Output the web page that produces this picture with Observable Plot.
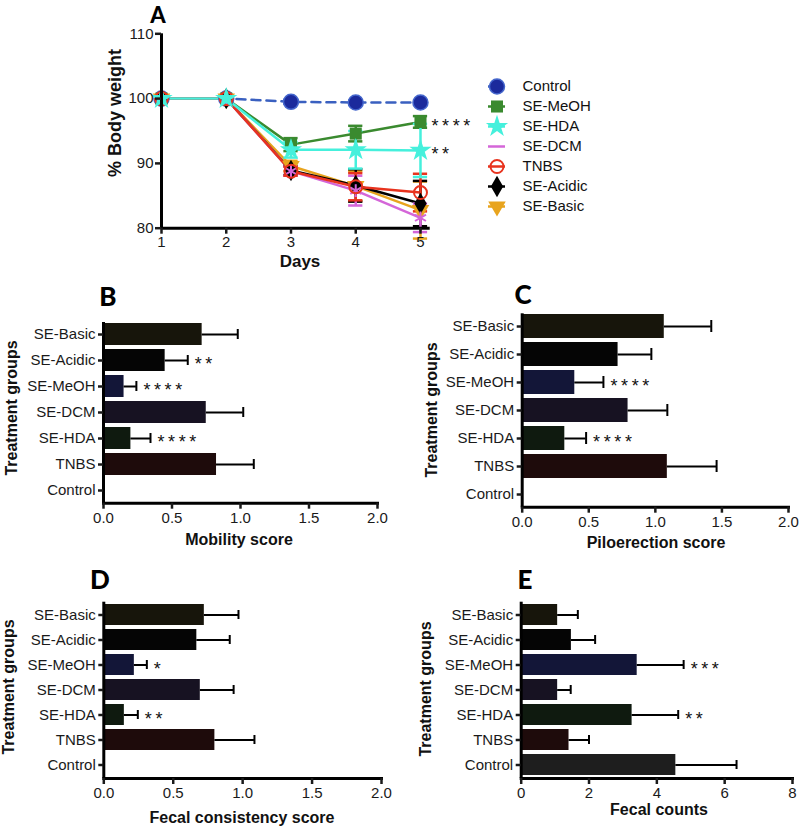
<!DOCTYPE html>
<html>
<head>
<meta charset="utf-8">
<script src="https://cdn.jsdelivr.net/npm/d3@7"></script>
<script src="https://cdn.jsdelivr.net/npm/@observablehq/plot@0.6"></script>
<style>
  body { margin: 0; background: #fff; }
  #wrap { position: relative; width: 800px; height: 831px; background: #fff; overflow: hidden; }
  .abs { position: absolute; }
  .lbl { position: absolute; font-family: "Liberation Sans", Arial, sans-serif; font-weight: bold; color: #111; white-space: nowrap; transform: translate(-50%, -50%); }
  .rot { transform: translate(-50%, -50%) rotate(-90deg); }
  .letter { position: absolute; font-family: Lato, "Open Sans", sans-serif; font-weight: 900; color: #000; transform: translate(-50%, -50%); }
</style>
</head>
<body>
<div id="wrap"></div>
<script>
// ---------- Panel A data ----------
const days = [1, 2, 3, 4, 5];
const seriesNames = ["Control", "SE-MeOH", "SE-HDA", "SE-DCM", "TNBS", "SE-Acidic", "SE-Basic"];
const controlWeight = [100, 100, 99.5, 99.4, 99.4];
const controlErr    = [0, 0, 0.3, 0.3, 0.3];
const meohWeight    = [100, 100, 92.9, 94.6, 96.4];
const meohErr       = [0, 0, 1.0, 1.2, 0.9];
const hdaWeight     = [100, 100, 92.1, 92.1, 92.0];
const hdaErr        = [0, 0, 1.2, 2.9, 4.1];
const dcmWeight     = [100, 100, 88.8, 85.8, 81.6];
const dcmErr        = [0, 0, 0.7, 2.3, 2.2];
const tnbsWeight    = [100, 100, 88.8, 86.4, 85.5];
const tnbsErr       = [0, 0, 0.7, 2.1, 2.9];
const acidicWeight  = [100, 100, 88.9, 86.6, 83.8];
const acidicErr     = [0, 0, 0.7, 2.5, 3.5];
const basicWeight   = [100, 100, 89.6, 86.5, 82.8];
const basicErr      = [0, 0, 0.8, 2.3, 4.4];
const weightStars   = {"SE-MeOH": "*\u2009*\u2009*\u2009*", "SE-HDA": "*\u2009*"};

// ---------- Bar panel data ----------
const groups = ["SE-Basic", "SE-Acidic", "SE-MeOH", "SE-DCM", "SE-HDA", "TNBS", "Control"];
const mobility      = [0.72, 0.45, 0.15, 0.75, 0.20, 0.825, 0];
const mobilityErr   = [0.26, 0.165, 0.09, 0.27, 0.143, 0.272, 0];
const mobilityStars = ["", "**", "****", "", "****", "", ""];
const pilo          = [1.067, 0.72, 0.395, 0.795, 0.32, 1.09, 0];
const piloErr       = [0.353, 0.25, 0.215, 0.295, 0.16, 0.37, 0];
const piloStars     = ["", "", "****", "", "****", "", ""];
const fecalCons     = [0.724, 0.67, 0.22, 0.695, 0.148, 0.80, 0];
const fecalConsErr  = [0.246, 0.237, 0.09, 0.24, 0.097, 0.285, 0];
const fecalConsStars= ["", "", "*", "", "**", "", ""];
const fecalCounts   = [1.075, 1.48, 3.42, 1.075, 3.27, 1.41, 4.56];
const fecalCountsErr= [0.595, 0.70, 1.37, 0.385, 1.36, 0.59, 1.79];
const fecalCountsStars = ["", "", "***", "", "**", "", ""];
const scoreTicks = [0, 0.5, 1, 1.5, 2];
const countTicks = [0, 2, 4, 6, 8];
const weightTicks = [80, 90, 100, 110];

// ---------- styles ----------
const barColor = {"SE-Basic": "#17150b", "SE-Acidic": "#050505", "SE-MeOH": "#131638", "SE-DCM": "#171222",
                  "SE-HDA": "#0f1a0f", "TNBS": "#1e0b0b", "Control": "#1e1e1e"};
const seriesStyle = {
  "Control":   {line: "#3a60c0", dash: "9,6", dot: {symbol: "circle", r: 7.5, fill: "#1b2a9c", stroke: "#4466cc", strokeWidth: 1.5}},
  "SE-MeOH":   {line: "#3a8a2f", dot: {symbol: "square", r: 6.8, fill: "#3a8a2f"}},
  "SE-Basic":  {line: "#e8a41e", dot: {symbol: "triangle", r: 6.5, fill: "#e8a41e", rotate: 180}},
  "SE-Acidic": {line: "#000000", dot: {symbol: "diamond", r: 6.5, fill: "#000"}},
  "SE-DCM":    {line: "#d466d8", dot: {symbol: "asterisk", r: 6, stroke: "#d466d8", strokeWidth: 2}, noLegendDot: true},
  "TNBS":      {line: "#e8331e", dot: {symbol: "circle", r: 6.5, fill: "none", stroke: "#e8331e", strokeWidth: 2}},
  "SE-HDA":    {line: "#45f0dc", dot: {symbol: "star", r: 7, fill: "#45f0dc"}}
};
const weightValues = {"Control": [controlWeight, controlErr], "SE-MeOH": [meohWeight, meohErr], "SE-HDA": [hdaWeight, hdaErr],
  "SE-DCM": [dcmWeight, dcmErr], "TNBS": [tnbsWeight, tnbsErr], "SE-Acidic": [acidicWeight, acidicErr], "SE-Basic": [basicWeight, basicErr]};
const drawOrder = ["Control", "SE-MeOH", "SE-Basic", "SE-Acidic", "SE-DCM", "TNBS", "SE-HDA"];

const FONT = "'Liberation Sans', Arial, sans-serif";
const spaced = s => s.split("").join("\u2009");
const wrap = document.getElementById("wrap");
function place(el, left, top) { el.classList.add("abs"); el.style.left = left + "px"; el.style.top = top + "px"; wrap.appendChild(el); }
function label(text, x, y, size, rot) {
  const d = document.createElement("div"); d.className = "lbl" + (rot ? " rot" : "");
  d.textContent = text; d.style.left = x + "px"; d.style.top = y + "px"; d.style.fontSize = size + "px"; wrap.appendChild(d);
}
function letter(text, x, y, size) {
  const d = document.createElement("div"); d.className = "letter";
  d.textContent = text; d.style.left = x + "px"; d.style.top = y + "px"; d.style.fontSize = size + "px"; wrap.appendChild(d);
}

// ---------- Panel A ----------
const longData = [];
for (const s of seriesNames) {
  const [v, e] = weightValues[s];
  days.forEach((d, i) => longData.push({series: s, day: d, value: v[i], err: e[i]}));
}
const marksA = [];
for (const s of drawOrder) {
  const st = seriesStyle[s];
  marksA.push(Plot.line(longData.filter(d => d.series === s), {x: "day", y: "value", stroke: st.line, strokeWidth: 2.5, strokeDasharray: st.dash || null}));
}
for (const s of drawOrder) {
  const st = seriesStyle[s];
  const ed = longData.filter(d => d.series === s && d.err > 0);
  marksA.push(Plot.ruleX(ed, {x: "day", y1: d => d.value - d.err, y2: d => d.value + d.err, stroke: st.line, strokeWidth: 2.5}));
  marksA.push(Plot.ruleY(ed, {y: d => d.value + d.err, x1: d => d.day - 0.11, x2: d => d.day + 0.11, stroke: st.line, strokeWidth: 2.5}));
  marksA.push(Plot.ruleY(ed, {y: d => d.value - d.err, x1: d => d.day - 0.11, x2: d => d.day + 0.11, stroke: st.line, strokeWidth: 2.5}));
}
for (const s of drawOrder) {
  const st = seriesStyle[s];
  marksA.push(Plot.dot(longData.filter(d => d.series === s), {x: "day", y: "value", ...st.dot}));
}
const starData = longData.filter(d => d.day === 5 && weightStars[d.series]);
marksA.push(Plot.text(starData, {x: "day", y: "value", text: d => weightStars[d.series], textAnchor: "start", dx: 11, dy: 4, fontSize: 18, fill: "#111"}));
marksA.push(Plot.ruleX([1], {strokeWidth: 3, stroke: "#000"}));
marksA.push(Plot.ruleY([80], {strokeWidth: 3, stroke: "#000"}));
marksA.push(Plot.axisX({ticks: days, tickFormat: d => d, tickSize: 6, tickPadding: 2, strokeWidth: 2.5, label: null, fontSize: 15}));
marksA.push(Plot.axisY({ticks: weightTicks, tickSize: 6, tickPadding: 2, strokeWidth: 2.5, label: null, fontSize: 15}));

const plotA = Plot.plot({
  width: 440, height: 275, marginLeft: 161, marginRight: 10.3, marginTop: 33.3, marginBottom: 47.3,
  style: {fontFamily: FONT, fontSize: "15px", color: "#1a1a1a", background: "none", overflow: "visible"},
  x: {domain: [1, 5.15]}, y: {domain: [80, 110]},
  marks: marksA
});
place(plotA, 0, 0);

// legend
const legendMarks = [];
for (const s of seriesNames) {
  const st = seriesStyle[s];
  legendMarks.push(Plot.ruleY([s], {y: d => d, x1: 0, x2: 1, stroke: st.line, strokeWidth: 2.5}));
  if (!st.noLegendDot) legendMarks.push(Plot.dot([s], {x: 0.5, y: d => d, ...st.dot}));
  legendMarks.push(Plot.text([s], {x: 1, y: d => d, text: d => d, dx: 17, textAnchor: "start", fontSize: 15, fill: "#111"}));
}
const legend = Plot.plot({
  width: 160, height: 152, marginLeft: 8, marginRight: 135, marginTop: 15, marginBottom: 15,
  style: {fontFamily: FONT, fontSize: "15px", background: "none", overflow: "visible"},
  x: {domain: [0, 1], axis: null}, y: {type: "point", domain: seriesNames, padding: 0, axis: null},
  marks: legendMarks
});
place(legend, 480, 70);

letter("A", 158, 14, 22);
label("% Body weight", 115, 113, 18, true);
label("Days", 300, 262, 17);

// ---------- bar panels ----------
function barPanel(vals, errs, stars, o) {
  const data = groups.map((g, i) => ({group: g, value: vals[i], err: errs[i], stars: stars[i]}));
  const withErr = data.filter(d => d.err > 0);
  return Plot.plot({
    width: o.width, height: o.height, marginLeft: o.ml, marginRight: o.mr, marginTop: o.mt, marginBottom: o.mb,
    style: {fontFamily: FONT, fontSize: "15px", color: "#1a1a1a", background: "none", overflow: "visible"},
    x: {domain: o.domain},
    y: {domain: groups, paddingInner: 0.15, paddingOuter: 0.02},
    color: {type: "identity"},
    marks: [
      Plot.barX(data.filter(d => d.value > 0), {x: "value", y: "group", fill: d => barColor[d.group]}),
      Plot.ruleY(withErr, {y: "group", x1: "value", x2: d => d.value + d.err, stroke: "#000", strokeWidth: 2}),
      Plot.tickX(withErr, {x: d => d.value + d.err, y: "group", stroke: "#000", strokeWidth: 2, insetTop: 6, insetBottom: 6}),
      Plot.text(data.filter(d => d.stars), {x: d => d.value + d.err, y: "group", text: d => spaced(d.stars), textAnchor: "start", dx: 7, dy: 4, fontSize: 18, fill: "#111"}),
      Plot.ruleX([0], {stroke: "#000", strokeWidth: 3}),
      Plot.frame({anchor: "bottom", stroke: "#000", strokeWidth: 3}),
      Plot.axisX({ticks: o.ticks, tickFormat: o.fmt, tickSize: 6, tickPadding: 3, strokeWidth: 2.5, label: null, fontSize: 15}),
      Plot.axisY({tickSize: 5, tickPadding: 3, strokeWidth: 2.5, label: null, fontSize: 15})
    ]
  });
}
const fmt1 = d3.format(".1f");
const fmt0 = d3.format("d");

place(barPanel(mobility, mobilityErr, mobilityStars, {width: 400, height: 280, ml: 103, mr: 23, mt: 42, mb: 57.3, domain: [0, 2], ticks: scoreTicks, fmt: fmt1}), 0, 280);
letter("B", 108, 296, 26);
label("Treatment groups", 12, 408, 16, true);
label("Mobility score", 239, 540, 16);

place(barPanel(pilo, piloErr, piloStars, {width: 400, height: 280, ml: 121.7, mr: 12, mt: 33.3, mb: 53.3, domain: [0, 2], ticks: scoreTicks, fmt: fmt1}), 400, 280);
letter("C", 523, 294, 26);
label("Treatment groups", 432, 410, 16, true);
label("Piloerection score", 656, 543, 16);

place(barPanel(fecalCons, fecalConsErr, fecalConsStars, {width: 400, height: 271, ml: 103.3, mr: 19, mt: 41.7, mb: 53, domain: [0, 2], ticks: scoreTicks, fmt: fmt1}), 0, 560);
letter("D", 100, 579, 26);
label("Treatment groups", 9, 687, 16, true);
label("Fecal consistency score", 242, 818, 16);

place(barPanel(fecalCounts, fecalCountsErr, fecalCountsStars, {width: 400, height: 271, ml: 120.7, mr: 8, mt: 41.7, mb: 53, domain: [0, 8], ticks: countTicks, fmt: fmt0}), 400, 560);
letter("E", 525, 579, 26);
label("Treatment groups", 426, 689, 16, true);
label("Fecal counts", 659, 810, 16);
</script>
</body>
</html>
